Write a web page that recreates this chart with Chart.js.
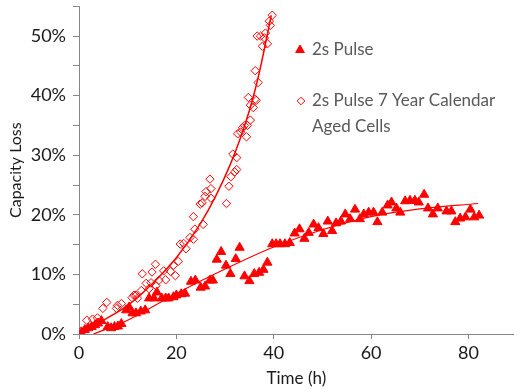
<!DOCTYPE html>
<html>
<head>
<meta charset="utf-8">
<script src="https://cdn.jsdelivr.net/npm/chart.js@4/dist/chart.umd.min.js"></script>
<style>
  html, body { margin: 0; padding: 0; background: #fff; }
  #wrap { width: 520px; height: 389px; position: relative; }
</style>
</head>
<body>
<div id="wrap"><canvas id="c" width="520" height="389"></canvas></div>
<script>
// ---- data ----
const seriesNames = ["2s Pulse", "2s Pulse 7 Year Calendar", "Aged Cells"];
const xTickValues = [0, 20, 40, 60, 80];
const yTickLabels = ["0%", "10%", "20%", "30%", "40%", "50%"];

const pulseTime = [0.5,1.2,1.9,2.6,3.3,3.9,4.6,5.9,6.6,7.3,8.0,8.7,9.7,10.3,11.0,11.7,12.7,13.6,14.4,15.4,16.0,17.0,17.8,18.4,19.4,20.0,21.0,21.8,23.0,23.9,25.0,25.9,26.9,27.5,28.3,29.2,30.2,31.1,32.2,33.0,34.0,35.0,36.0,37.0,37.9,38.7,39.7,40.5,41.3,42.3,43.3,44.3,45.3,46.3,47.2,48.2,49.2,50.2,51.1,52.0,52.8,53.8,54.7,55.7,56.7,57.7,58.5,59.5,60.5,61.3,62.3,63.4,64.2,65.2,66.0,67.0,68.0,69.0,69.8,70.9,71.7,72.7,73.7,75.5,76.5,77.3,78.3,79.4,80.4,81.2,82.2];
const pulseLoss = [0.2,0.7,1.0,1.2,1.5,1.8,2.2,1.2,1.0,1.2,1.3,1.7,4.0,4.5,3.5,3.5,3.8,4.0,6.0,6.0,7.0,6.0,6.0,6.0,6.2,6.5,6.7,6.8,8.8,9.0,7.8,8.0,9.0,9.0,12.5,13.8,11.5,10.1,12.6,14.5,9.7,8.9,10.1,10.3,10.8,12.0,15.1,15.1,15.1,15.1,15.3,16.9,17.6,16.0,17.0,18.4,17.8,16.8,18.9,17.3,18.6,18.9,20.1,19.3,20.9,19.3,20.1,20.4,20.4,18.8,20.4,21.6,22.1,21.1,20.4,22.3,22.4,22.4,22.1,23.4,21.1,20.1,21.1,20.6,20.6,18.8,19.4,19.6,20.9,19.6,19.9];

const agedTime = [0.5,1.6,2.8,3.8,4.9,5.7,7.7,7.9,8.7,10.9,11.3,11.7,12.0,12.8,13.0,13.8,14.4,14.8,15.0,15.7,15.8,16.4,17.4,17.8,18.8,19.4,19.8,20.4,20.8,21.5,22.0,22.8,23.5,23.8,23.5,24.9,25.3,25.5,25.9,26.1,26.9,27.1,27.1,30.3,30.8,31.2,31.6,32.0,32.4,32.4,32.6,33.2,33.6,34.0,34.4,34.6,35.2,35.2,34.8,35.8,36.2,36.4,36.8,36.2,37.7,38.7,36.6,37.3,38.1,38.3,39.3,39.1,39.7];
const agedLoss = [0.5,2.3,2.5,2.7,4.3,5.3,4.3,4.8,5.1,6.1,6.5,6.5,6.0,7.3,10.1,8.5,7.6,8.6,10.4,11.7,8.1,9.0,10.6,9.1,10.5,11.5,9.8,12.2,15.1,15.2,14.3,16.2,15.9,17.6,19.7,21.8,22.0,18.4,23.1,23.9,26.0,24.4,22.8,21.9,24.8,26.4,30.2,27.2,27.6,29.6,33.6,33.9,34.6,35.0,33.1,35.0,35.9,38.4,39.7,38.0,39.4,39.2,42.2,44.2,48.3,48.7,50.0,50.0,49.7,50.5,51.8,52.5,53.5];

const pulseFitTime = [3, 10, 20, 30, 40, 50, 60, 70, 82];
const pulseFitLoss = [0, 2.3, 6.8, 10.9, 14.6, 17.5, 19.7, 21.0, 21.9];

const agedFitTime = [0, 5, 10, 15, 20, 25, 28, 31, 33, 35, 36.5, 38, 39.5];
const agedFitLoss = [0, 2.3, 4.8, 8.4, 12.8, 18.6, 23, 28.3, 32.5, 37.5, 42, 47.5, 53.5];

// ---- build ----
const RED = '#ff0000';
const toPts = (xs, ys) => xs.map((x, i) => ({ x: x, y: ys[i] }));
const FONT = 'Lato, "Liberation Sans", sans-serif';

const legendPlugin = {
  id: 'customLegend',
  afterDraw(chart) {
    const ctx = chart.ctx;
    ctx.save();
    ctx.fillStyle = RED; ctx.strokeStyle = RED; ctx.lineWidth = 1;
    Chart.helpers.drawPoint(ctx, { pointStyle: 'triangle', radius: 5, rotation: 0, borderWidth: 1 }, 300, 50);
    ctx.fillStyle = '#ffffff';
    Chart.helpers.drawPoint(ctx, { pointStyle: 'rectRot', radius: 3.8, rotation: 0, borderWidth: 1 }, 301, 101);
    ctx.fillStyle = '#595959';
    ctx.font = '17px ' + FONT;
    ctx.textBaseline = 'middle';
    ctx.textAlign = 'left';
    ctx.fillText(seriesNames[0], 312, 50);
    ctx.fillText(seriesNames[1], 312, 101);
    ctx.fillText(seriesNames[2], 312, 127);
    ctx.restore();
  }
};

new Chart(document.getElementById('c'), {
  type: 'scatter',
  data: {
    datasets: [
      { label: 'pulseFit', data: toPts(pulseFitTime, pulseFitLoss), showLine: true, pointRadius: 0,
        borderColor: RED, borderWidth: 1.2, cubicInterpolationMode: 'monotone', order: 3 },
      { label: 'agedFit', data: toPts(agedFitTime, agedFitLoss), showLine: true, pointRadius: 0,
        borderColor: RED, borderWidth: 1.5, cubicInterpolationMode: 'monotone', order: 2 },
      { label: seriesNames[1], data: toPts(agedTime, agedLoss), pointStyle: 'rectRot', pointRadius: 4.2,
        backgroundColor: 'rgba(255,255,255,0)', borderColor: RED, borderWidth: 1, order: 1 },
      { label: seriesNames[0], data: toPts(pulseTime, pulseLoss), pointStyle: 'triangle', pointRadius: 5.3,
        backgroundColor: RED, borderColor: RED, borderWidth: 1, order: 0 }
    ]
  },
  options: {
    responsive: false,
    animation: false,
    devicePixelRatio: 1,
    layout: { padding: { top: 3, right: 0, left: 0, bottom: 0 } },
    plugins: { legend: { display: false }, tooltip: { enabled: false } },
    scales: {
      x: {
        type: 'linear', min: 0, max: 89.3,
        afterFit(s) { s.height = 55; s.paddingLeft = 0; s.paddingRight = 0; },
        border: { color: '#868686', width: 1 },
        grid: { drawOnChartArea: false, drawTicks: true, tickLength: 5, color: '#868686' },
        ticks: { stepSize: 20, includeBounds: false, padding: 3, color: '#1a1a1a', font: { family: FONT, size: 18 },
                 callback: (v) => xTickValues.includes(v) ? String(v) : '' },
        title: { display: true, text: 'Time (h)', color: '#1a1a1a', font: { family: FONT, size: 17 }, padding: { top: 0, bottom: 0 } }
      },
      y: {
        type: 'linear', min: 0, max: 55,
        afterFit(s) { s.width = 79; s.paddingTop = 0; s.paddingBottom = 0; },
        border: { color: '#868686', width: 1 },
        grid: { drawOnChartArea: false, drawTicks: true, tickLength: 6, color: '#868686' },
        ticks: { stepSize: 5, includeBounds: false, padding: 7, color: '#1a1a1a', font: { family: FONT, size: 18 },
                 callback: (v) => { const r = Math.round(v); return (r % 10 === 0) ? yTickLabels[r / 10] : ''; } },
        title: { display: true, text: 'Capacity Loss', color: '#1a1a1a', font: { family: FONT, size: 16 }, padding: { top: 6, bottom: 0 } }
      }
    }
  },
  plugins: [legendPlugin]
});
</script>
</body>
</html>
